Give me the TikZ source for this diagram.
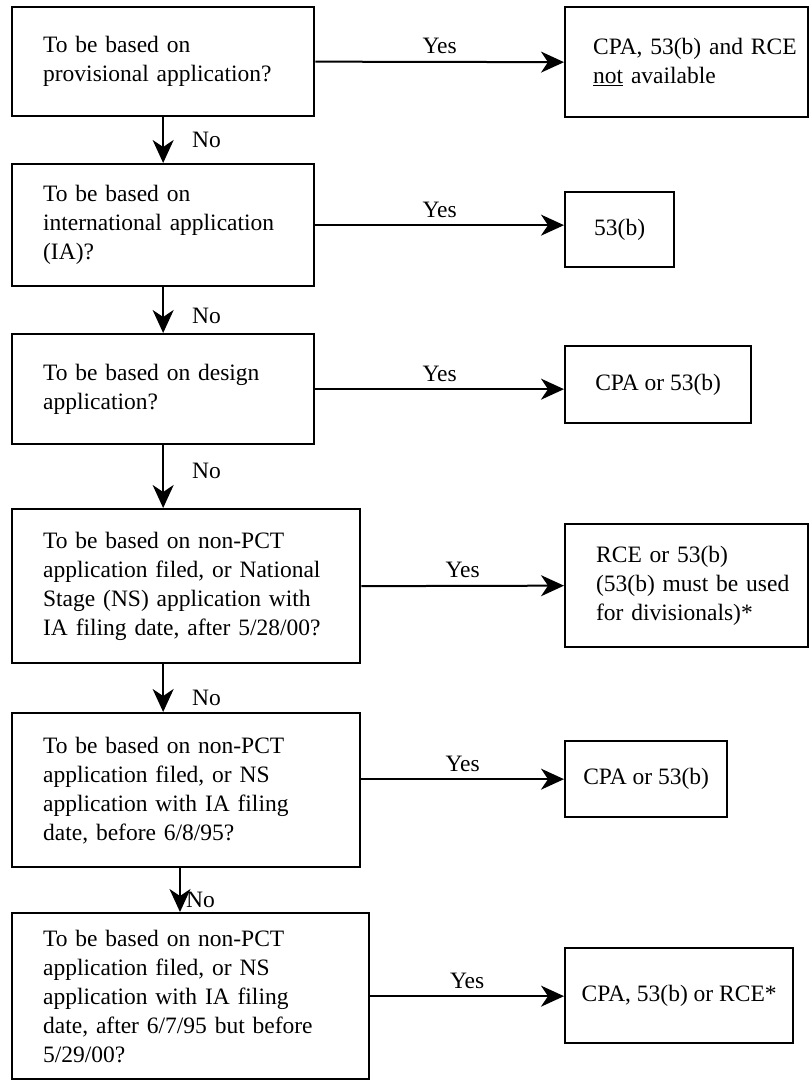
\documentclass[tikz,border=0pt]{standalone}
\usepackage{fontspec}
\setmainfont{Liberation Serif}
\usetikzlibrary{arrows.meta,calc}
\newcommand{\flowfont}{\fontsize{23.5pt}{29pt}\selectfont}
\begin{document}
\begin{tikzpicture}[x=1pt,y=-1pt,
  qbox/.style={draw, line width=2.3pt, anchor=north west, inner xsep=31pt, inner ysep=0pt, align=left, font=\flowfont},
  abox/.style={draw, line width=2.3pt, anchor=north west, inner xsep=0pt, inner ysep=0pt, align=center, font=\flowfont},
  arr/.style={line width=2pt, -{Stealth[length=23pt,width=21pt,inset=7pt]}},
  lab/.style={font=\flowfont, inner sep=0pt}]
\useasboundingbox (0,0) rectangle (809,1080);

% question boxes
\node[qbox, minimum width=302pt, minimum height=109pt, text width=240pt] (q1) at (11,6)
  {\mbox{To be based on}\\\mbox{provisional application?}};
\node[qbox, minimum width=302pt, minimum height=122pt, text width=240pt] (q2) at (11,163)
  {\mbox{To be based on}\\\mbox{international application}\\\mbox{(IA)?}};
\node[qbox, minimum width=302pt, minimum height=110pt, text width=240pt] (q3) at (11,333)
  {\mbox{To be based on design}\\\mbox{application?}};
\node[qbox, minimum width=348pt, minimum height=154pt, text width=286pt] (q4) at (11,508)
  {\mbox{To be based on non-PCT}\\\mbox{application filed, or National}\\\mbox{Stage (NS) application with}\\\mbox{IA filing date, after 5/28/00?}};
\node[qbox, minimum width=348pt, minimum height=154pt, text width=286pt] (q5) at (11,712)
  {\mbox{To be based on non-PCT}\\\mbox{application filed, or NS}\\\mbox{application with IA filing}\\\mbox{date, before 6/8/95?}};
\node[qbox, minimum width=357pt, minimum height=166pt, text width=295pt] (q6) at (11,912)
  {\mbox{To be based on non-PCT}\\\mbox{application filed, or NS}\\\mbox{application with IA filing}\\\mbox{date, after 6/7/95 but before}\\\mbox{5/29/00?}};

% answer boxes
\node[abox, inner xsep=28pt, align=left, text width=187pt, minimum width=243pt, minimum height=110pt] (a1) at (564,6)
  {\mbox{CPA, 53(b) and RCE}\\\mbox{\underline{not} available}};
\node[abox, minimum width=109pt, minimum height=75pt] (a2) at (564,191) {53(b)};
\node[abox, minimum width=186pt, minimum height=77pt] (a3) at (564,345) {CPA or 53(b)};
\node[abox, inner xsep=31pt, align=left, text width=181pt, minimum width=243pt, minimum height=123pt] (a4) at (564,523)
  {\mbox{RCE or 53(b)}\\\mbox{(53(b) must be used}\\\mbox{for divisionals)*}};
\node[abox, minimum width=162pt, minimum height=76pt] (a5) at (564,740) {CPA or 53(b)};
\node[abox, minimum width=228pt, minimum height=95pt] (a6) at (564,947) {CPA, 53(b) or RCE*};

% No arrows
\draw[arr] (q1.south) -- (q2.north);
\draw[arr] (q2.south) -- (q3.north);
\draw[arr] (q3.south) -- (q3.south |- q4.north);
\draw[arr] (q4.south -| q3.south) -- (q5.north -| q3.south);
\coordinate (c56) at ([xshift=169pt]q5.south west);
\draw[arr] (c56) -- (c56 |- q6.north);

\node[lab, anchor=base west] (no1) at (192,147) {No};
\node[lab, anchor=base west] (no2) at (192,323) {No};
\node[lab, anchor=base west] (no3) at (192,478) {No};
\node[lab, anchor=base west] (no4) at (192,705) {No};
\node[lab, anchor=base west] (no5) at (186,907) {No};

% Yes arrows
\draw[arr] (q1.east) -- (a1.west);
\draw[arr] (q2.east) -- (q2.east -| a2.west);
\draw[arr] (q3.east) -- (q3.east -| a3.west);
\draw[arr] (q4.east) -- (a4.west);
\coordinate (c5) at (q5.east |- a5.west);
\draw[arr] (c5) -- (a5.west);
\draw[arr] (q6.east) -- (q6.east -| a6.west);

\node[lab, anchor=base, yshift=8pt] (yes1) at ($(q1.east)!0.5!(a1.west)$) {Yes};
\node[lab, anchor=base, yshift=8pt] (yes2) at ($(q2.east)!0.5!(q2.east -| a2.west)$) {Yes};
\node[lab, anchor=base, yshift=8pt] (yes3) at ($(q3.east)!0.5!(q3.east -| a3.west)$) {Yes};
\node[lab, anchor=base, yshift=8pt] (yes4) at ($(q4.east)!0.5!(a4.west)$) {Yes};
\node[lab, anchor=base, yshift=8pt] (yes5) at ($(c5)!0.5!(a5.west)$) {Yes};
\node[lab, anchor=base, yshift=8pt] (yes6) at ($(q6.east)!0.5!(q6.east -| a6.west)$) {Yes};
\end{tikzpicture}
\end{document}
